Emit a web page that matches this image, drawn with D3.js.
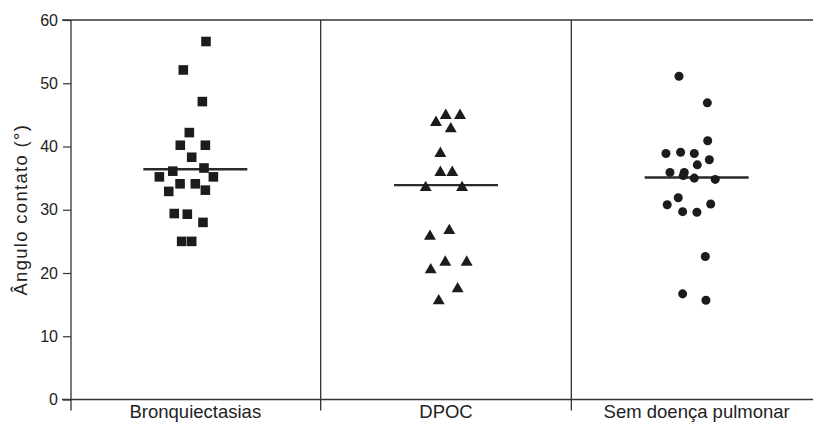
<!DOCTYPE html>
<html>
<head>
<meta charset="utf-8">
<script src="https://cdn.jsdelivr.net/npm/d3@7"></script>
<style>
  body { margin: 0; background: #fff; }
  text { font-family: "Liberation Sans", Arial, sans-serif; fill: #222; }
</style>
</head>
<body>
<div class="chart"></div>
<script>
// groups on the x axis
const groups = ["Bronquiectasias", "DPOC", "Sem doença pulmonar"];
const yTicks = [0, 10, 20, 30, 40, 50, 60];

// contact angle values (degrees) per group
const bronqValues = [56.6, 52.1, 47.1, 42.2, 40.2, 40.2, 38.3, 36.1, 36.6, 35.2, 35.2, 34.1, 34.1, 32.9, 33.1, 29.4, 29.3, 28.0, 25.0, 25.0];
// horizontal jitter, as a fraction of half the group width
const bronqJitter = [0.085, -0.096, 0.056, -0.048, -0.12, 0.08, -0.029, -0.18, 0.069, -0.287, 0.144, -0.122, 0, -0.212, 0.08, -0.168, -0.064, 0.061, -0.109, -0.029];

const dpocValues = [43.8, 44.9, 44.9, 42.8, 38.9, 35.9, 35.9, 33.5, 33.5, 25.8, 26.7, 20.5, 21.7, 21.7, 17.5, 15.6];
const dpocJitter = [-0.08, -0.002, 0.112, 0.038, -0.045, -0.045, 0.05, -0.162, 0.128, -0.128, 0.026, -0.122, -0.006, 0.165, 0.093, -0.058];

const semValues = [51.1, 46.9, 40.9, 38.9, 39.1, 38.9, 37.9, 37.1, 35.9, 35.9, 35.4, 35.0, 34.8, 31.9, 30.8, 29.7, 29.6, 30.9, 22.6, 16.7, 15.7];
const semJitter = [-0.141, 0.085, 0.088, -0.245, -0.128, -0.019, 0.101, 0.005, -0.213, -0.099, -0.107, -0.019, 0.148, -0.147, -0.235, -0.112, 0.002, 0.112, 0.069, -0.112, 0.074];

// group means (horizontal bars)
const means = [36.4, 33.9, 35.1];

const width = 813;
const height = 424;
const margin = { top: 20, right: -9, bottom: 24.5, left: 70 };
const ink = "#1c1c1c";
const lineColor = "#333";

const series = [
  { group: groups[0], values: bronqValues, jitter: bronqJitter, symbol: d3.symbolSquare, size: 92 },
  { group: groups[1], values: dpocValues, jitter: dpocJitter, symbol: d3.symbolTriangle, size: 62 },
  { group: groups[2], values: semValues, jitter: semJitter, symbol: d3.symbolCircle, size: 64 },
];

const points = series.flatMap(s => s.values.map((v, i) => ({
  group: s.group, value: v, jitter: s.jitter[i], symbol: s.symbol, size: s.size
})));

const svg = d3.select(".chart")
  .append("svg")
  .attr("width", width)
  .attr("height", height)
  .style("display", "block");

const x = d3.scaleBand()
  .domain(groups)
  .range([margin.left, width - margin.right]);

const y = d3.scaleLinear()
  .domain([0, 60])
  .range([height - margin.bottom, margin.top]);

const jitter = d3.scaleLinear()
  .domain([-1, 1])
  .range([-x.bandwidth() / 2, x.bandwidth() / 2]);

const cx = g => x(g) + x.bandwidth() / 2;

// frame: top and bottom lines
[0, 60].forEach(v => {
  svg.append("line")
    .attr("x1", margin.left - 8).attr("x2", width)
    .attr("y1", y(v)).attr("y2", y(v))
    .attr("stroke", lineColor).attr("stroke-width", 1.3);
});

// group separators
groups.slice(1).forEach(g => {
  svg.append("line")
    .attr("x1", x(g)).attr("x2", x(g))
    .attr("y1", y(60)).attr("y2", y(0) + 11)
    .attr("stroke", lineColor).attr("stroke-width", 1.3);
});

// y axis
const yAxis = svg.append("g")
  .attr("transform", `translate(${margin.left + 1},0)`)
  .call(d3.axisLeft(y).tickValues(yTicks).tickSize(8).tickPadding(5))
  .call(g => g.select(".domain").remove());
yAxis.selectAll("line").attr("stroke", lineColor).attr("stroke-width", 1.2);
yAxis.selectAll("text")
  .attr("font-size", 16)
  .attr("font-family", "Liberation Sans, Arial, sans-serif")
  .attr("fill", "#222");
svg.append("line")
  .attr("x1", margin.left + 1).attr("x2", margin.left + 1)
  .attr("y1", y(60)).attr("y2", y(0) + 11)
  .attr("stroke", lineColor).attr("stroke-width", 1.3);

svg.append("text")
  .attr("transform", `translate(27,${(y(0) + y(60)) / 2}) rotate(-90)`)
  .attr("text-anchor", "middle")
  .attr("font-size", 18.5)
  .attr("letter-spacing", 1.3)
  .text("Ângulo contato (°)");

// x labels
svg.append("g")
  .selectAll("text")
  .data(groups)
  .join("text")
  .attr("x", d => cx(d))
  .attr("y", height - 6)
  .attr("text-anchor", "middle")
  .attr("font-size", 18.5)
  .text(d => d);

// mean bars
svg.append("g")
  .selectAll("line")
  .data(means)
  .join("line")
  .attr("x1", (d, i) => cx(groups[i]) - 52)
  .attr("x2", (d, i) => cx(groups[i]) + 52)
  .attr("y1", d => y(d))
  .attr("y2", d => y(d))
  .attr("stroke", "#2a2a2a")
  .attr("stroke-width", 2.4);

// points
svg.append("g")
  .selectAll("path")
  .data(points)
  .join("path")
  .attr("transform", d => `translate(${cx(d.group) + jitter(d.jitter)},${y(d.value)})`)
  .attr("d", d => d3.symbol().type(d.symbol).size(d.size)())
  .attr("fill", ink);
</script>
</body>
</html>
